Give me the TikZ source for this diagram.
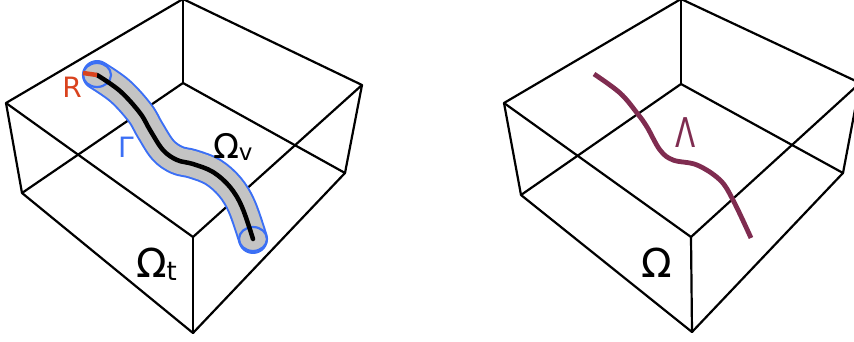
\documentclass[tikz,border=0pt]{standalone}
\usepackage{fontspec}
\setmainfont{DejaVu Sans}
\definecolor{tubeblue}{HTML}{3B6FF5}
\definecolor{tubegray}{HTML}{C4C4C4}
\definecolor{rred}{HTML}{D9431E}
\definecolor{maroon}{HTML}{7F2C50}
\begin{document}
\begin{tikzpicture}[x=1pt,y=-1pt,
  edge/.style={black,line width=2.2pt,line join=round},
  lbl/.style={inner sep=0pt,outer sep=0pt}]
\useasboundingbox (0,0) rectangle (854,342);
\clip (0,0) rectangle (854,342);
% ---------- left box ----------
\coordinate (LT) at (183,-1);
\coordinate (LL) at (6,103);
\coordinate (LR) at (362,85);
\coordinate (LF) at (193,237);
\coordinate (LB) at (183,83);
\coordinate (LLb) at (22,193);
\coordinate (LRb) at (345,173);
\coordinate (LFb) at (193,333);
\draw[edge] (LT) -- (LL) -- (LF) -- (LR) -- cycle;
\draw[edge] (LLb) -- (LFb) -- (LRb) -- (LB) -- cycle;
\draw[edge] (LT) -- (LB);
\draw[edge] (LL) -- (LLb);
\draw[edge] (LR) -- (LRb);
\draw[edge] (LF) -- (LFb);
% tube
\def\tubepath{plot[smooth,tension=0.6] coordinates {(97,75) (120,91) (140,113) (150,130) (163,150) (177,160) (193,164) (213,172) (230,187) (242,207) (253,239)}}
\draw[tubeblue,line width=30pt,line cap=round,line join=round] \tubepath;
\draw[tubegray,line width=26pt,line cap=round,line join=round] \tubepath;
\draw[tubeblue,line width=2.2pt] (97,75) ellipse [x radius=14pt,y radius=12pt];
\draw[tubeblue,line width=2.2pt] (253,239) ellipse [x radius=14pt,y radius=12pt];
\draw[black,line width=4.5pt,line cap=round] \tubepath;
\coordinate (Rs) at (83,73);
\coordinate (Rc) at (97,75);
\draw[rred,line width=4.5pt] (Rs) -- (Rc);
\node[lbl,text=rred,font=\fontsize{28}{28}\selectfont] (R) at (72,87) {R};
\node[lbl,text=tubeblue,font=\fontsize{28}{28}\selectfont] (G) at (126,147) {Γ};
\node[lbl,font=\fontsize{34}{34}\selectfont,anchor=base west] (Ov) at (213,158) {Ω\lower2pt\hbox{\fontsize{23}{23}\selectfont v}};
\node[lbl,font=\fontsize{40}{40}\selectfont,anchor=base west] (Ot) at (136,277) {Ω\lower3pt\hbox{\fontsize{26}{26}\selectfont t}};
% ---------- right box ----------
\coordinate (RT) at (681,-1);
\coordinate (RL) at (504,103);
\coordinate (RR) at (860,83);
\coordinate (RF) at (691,237);
\coordinate (RB) at (681,84);
\coordinate (RLb) at (521,195);
\coordinate (RRb) at (843,173);
\coordinate (RFb) at (692,332);
\draw[edge] (RT) -- (RL) -- (RF) -- (RR) -- cycle;
\draw[edge] (RLb) -- (RFb) -- (RRb) -- (RB) -- cycle;
\draw[edge] (RT) -- (RB);
\draw[edge] (RL) -- (RLb);
\draw[edge] (RR) -- (RRb);
\draw[edge] (RF) -- (RFb);
\draw[maroon,line width=4.8pt,line join=round] plot[smooth,tension=0.6] coordinates {(594,74) (620,93) (637,113) (647,127) (660,150) (673,160) (697,165) (720,180) (733,200) (751,238)};
\node[lbl,text=maroon,font=\fontsize{41}{41}\selectfont,xscale=0.72] (L) at (686,133) {Λ};
\node[lbl,font=\fontsize{40}{40}\selectfont,anchor=base west] (O) at (641,277) {Ω};
\end{tikzpicture}
\end{document}
